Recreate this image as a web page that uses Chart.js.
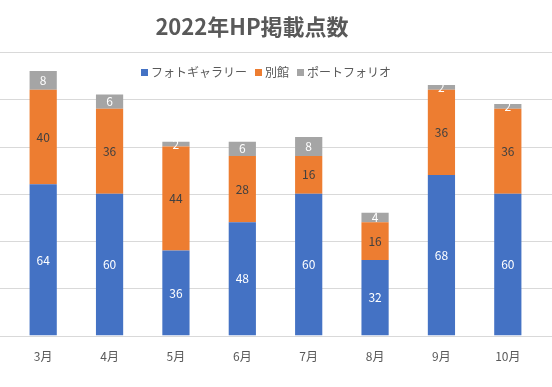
<!DOCTYPE html>
<html>
<head>
<meta charset="utf-8">
<script src="https://cdn.jsdelivr.net/npm/chart.js@4"></script>
<style>
  html, body { margin: 0; padding: 0; background: #fff; }
  #wrap { position: relative; width: 552px; height: 387px; }
  #title {
    position: absolute; left: 0; top: 9px; width: 504px; text-align: center;
    font: bold 22px "Noto Sans CJK JP", sans-serif; color: #595959;
  }
  #legend {
    position: absolute; left: 0; top: 63px; width: 532px; text-align: center;
    font: 12px "Noto Sans CJK JP", sans-serif; color: #595959; white-space: nowrap;
  }
  #legend span { margin: 0 4px; }
  #legend i { display: inline-block; width: 7px; height: 7px; margin-right: 3px; vertical-align: 1px; }
</style>
</head>
<body>
<div id="wrap">
  <canvas id="chart" width="552" height="387"></canvas>
  <div id="title">2022年HP掲載点数</div>
  <div id="legend"></div>
</div>
<script>
// data
const months = ['3月', '4月', '5月', '6月', '7月', '8月', '9月', '10月'];
const seriesNames = ['フォトギャラリー', '別館', 'ポートフォリオ'];
const photoGallery = [64, 60, 36, 48, 60, 32, 68, 60];
const annex = [40, 36, 44, 28, 16, 16, 36, 36];
const portfolio = [8, 6, 2, 6, 8, 4, 2, 2];

const colors = ['#4472C4', '#ED7D31', '#A5A5A5'];
const labelColors = ['#ffffff', '#404040', '#ffffff'];

// legend
document.getElementById('legend').innerHTML = seriesNames
  .map((n, i) => '<span><i style="background:' + colors[i] + '"></i>' + n + '</span>')
  .join('');

// gridlines across the full width
const fullGrid = {
  id: 'fullGrid',
  beforeDatasetsDraw(chart) {
    const y = chart.scales.y, ctx = chart.ctx;
    ctx.save();
    ctx.strokeStyle = '#d9d9d9';
    ctx.lineWidth = 1;
    for (let v = y.min; v <= y.max; v += 20) {
      const py = Math.round(y.getPixelForValue(v)) + 0.5;
      ctx.beginPath();
      ctx.moveTo(0, py);
      ctx.lineTo(chart.width, py);
      ctx.stroke();
    }
    ctx.restore();
  }
};

// value labels in the middle of each segment
const barLabels = {
  id: 'barLabels',
  afterDatasetsDraw(chart) {
    const ctx = chart.ctx;
    ctx.save();
    ctx.font = '12px "Noto Sans CJK JP", sans-serif';
    ctx.textAlign = 'center';
    ctx.textBaseline = 'middle';
    chart.data.datasets.forEach((ds, i) => {
      ctx.fillStyle = labelColors[i];
      chart.getDatasetMeta(i).data.forEach((bar, j) => {
        ctx.fillText(ds.data[j], bar.x, (bar.y + bar.base) / 2);
      });
    });
    ctx.restore();
  }
};

new Chart(document.getElementById('chart'), {
  type: 'bar',
  data: {
    labels: months,
    datasets: [
      { label: seriesNames[0], data: photoGallery, backgroundColor: colors[0] },
      { label: seriesNames[1], data: annex, backgroundColor: colors[1] },
      { label: seriesNames[2], data: portfolio, backgroundColor: colors[2] }
    ]
  },
  options: {
    responsive: false,
    animation: false,
    categoryPercentage: 0.41,
    barPercentage: 1,
    layout: { padding: { left: 10, right: 11, top: 52, bottom: 17 } },
    plugins: { legend: { display: false }, title: { display: false }, tooltip: { enabled: false } },
    scales: {
      x: {
        stacked: true,
        grid: { display: false },
        border: { display: false },
        ticks: { color: '#595959', font: { size: 12, family: '"Noto Sans CJK JP", sans-serif' }, padding: 6 }
      },
      y: {
        stacked: true,
        display: false,
        min: 0,
        max: 120,
        ticks: { stepSize: 20 }
      }
    }
  },
  plugins: [fullGrid, barLabels]
});
</script>
</body>
</html>
